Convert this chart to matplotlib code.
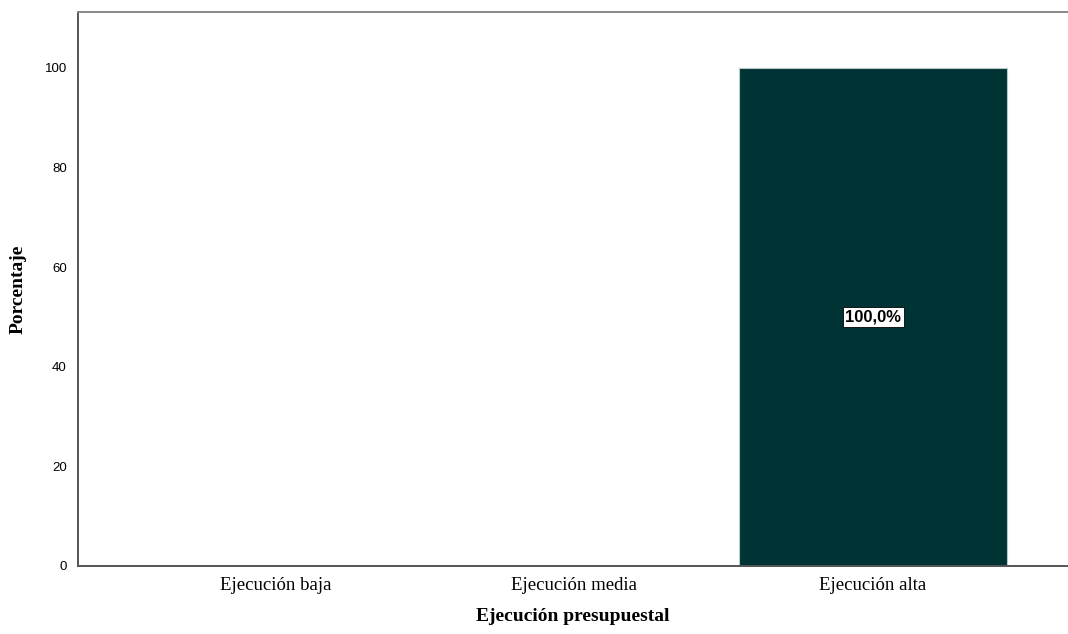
import matplotlib
matplotlib.use('Agg')
import matplotlib.pyplot as plt

# datos
categorias = ['Ejecución baja', 'Ejecución media', 'Ejecución alta']
porcentajes = [0.0, 0.0, 100.0]
etiquetas = ['', '', '100,0%']
yticks = [0, 20, 40, 60, 80, 100]

fig = plt.figure(figsize=(10.68, 6.34), dpi=100)
ax = fig.add_axes([0.073, 0.1073, 0.927, 0.8738])

x = list(range(len(categorias)))
bars = ax.bar(x, porcentajes, width=0.9, color='#003434', edgecolor='#b8c8c8', linewidth=0.8)

for xi, v, txt in zip(x, porcentajes, etiquetas):
    if txt:
        ax.text(xi, v / 2, txt, ha='center', va='center', fontsize=12, fontweight='bold',
                family='Liberation Sans', color='black',
                bbox=dict(boxstyle='square,pad=0.15', facecolor='white', edgecolor='black', linewidth=0.6))

ax.set_xlim(-0.663, 2.653)
ax.set_ylim(0, 111.2)
ax.set_xticks(x)
ax.set_xticklabels(categorias, family='Liberation Serif', fontsize=13.5)
ax.set_yticks(yticks)
ax.set_yticklabels([str(t) for t in yticks], family='Liberation Sans', fontsize=9.5)
ax.tick_params(axis='both', length=0)
ax.tick_params(axis='x', pad=8)
ax.tick_params(axis='y', pad=8)

for s in ['left', 'bottom', 'top']:
    ax.spines[s].set_color('#555555')
    ax.spines[s].set_linewidth(1.4)
ax.spines['top'].set_color('#888888')
ax.spines['right'].set_visible(False)

ax.set_xlabel('Ejecución presupuestal', family='Liberation Serif', fontweight='bold', fontsize=14, labelpad=10)
ax.set_ylabel('Porcentaje', family='Liberation Serif', fontweight='bold', fontsize=14, labelpad=13)

fig.savefig('out.png', dpi=100)
